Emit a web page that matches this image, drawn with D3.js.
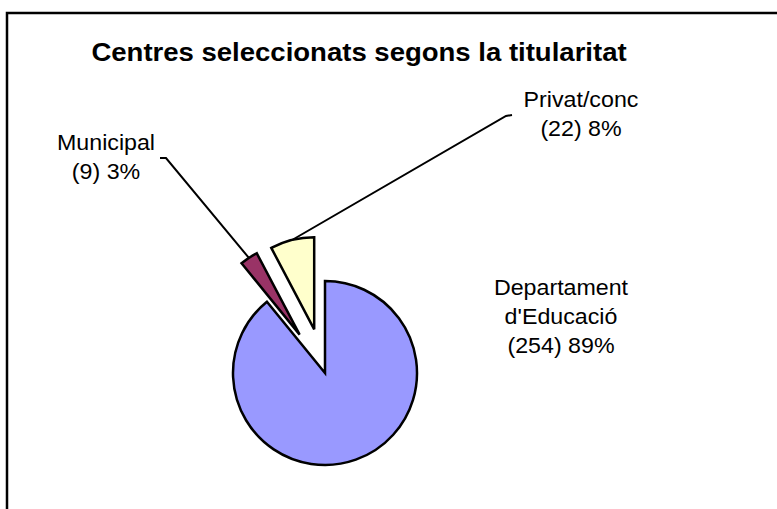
<!DOCTYPE html>
<html>
<head>
<meta charset="utf-8">
<script src="https://d3js.org/d3.v7.min.js"></script>
<style>
body { margin: 0; background: #fff; }
svg { display: block; }
text { font-family: Arial, "Liberation Sans", sans-serif; fill: #000; }
</style>
<title>Centres seleccionats segons la titularitat</title>
</head>
<body>
<script>
var categories = [["Departament", "d'Educació"], ["Municipal"], ["Privat/conc"]];
var values = [254, 9, 22];
var colors = ["#9999ff", "#993366", "#ffffcc"];
var exploded = [0, 46, 45];

// label anchors (centre x, first baseline) and leader start points
var labelPos = [[561, 295], [106, 150], [581, 107]];
var leaderStart = [null, [[160, 158], [166, 158]], [[512, 115], [506, 116]]];

var width = 777, height = 509;
var cx = 325, cy = 373, r = 92;

var total = d3.sum(values);

var svg = d3.select("body").append("svg")
    .attr("width", width)
    .attr("height", height);

// chart frame, runs off the right and bottom edges
svg.append("rect")
    .attr("x", 7).attr("y", 13)
    .attr("width", 900).attr("height", 700)
    .attr("fill", "#fff")
    .attr("stroke", "#000")
    .attr("stroke-width", 2.5);

svg.append("text")
    .attr("transform", "translate(359,61) scale(1.08,1)")
    .attr("text-anchor", "middle")
    .style("font-size", "25.5px")
    .style("font-weight", "bold")
    .text("Centres seleccionats segons la titularitat");

var pie = d3.pie().sort(null).value(function(d) { return d; });
var arcs = pie(values);

var arc = d3.arc().innerRadius(0).outerRadius(r);

function offset(d, i) {
  var a = (d.startAngle + d.endAngle) / 2;
  return [Math.sin(a) * exploded[i], -Math.cos(a) * exploded[i]];
}

var g = svg.append("g").attr("transform", "translate(" + cx + "," + cy + ")");

g.selectAll("path")
    .data(arcs)
  .enter().append("path")
    .attr("d", arc)
    .attr("transform", function(d, i) { return "translate(" + offset(d, i) + ")"; })
    .attr("fill", function(d, i) { return colors[i]; })
    .attr("stroke", "#000")
    .attr("stroke-width", 2.5)
    .attr("stroke-linejoin", "miter");

// leader lines to the outer middle of the exploded slices
arcs.forEach(function(d, i) {
  if (!leaderStart[i]) return;
  var a = (d.startAngle + d.endAngle) / 2;
  var o = offset(d, i);
  var end = [cx + o[0] + Math.sin(a) * r, cy + o[1] - Math.cos(a) * r];
  var pts = leaderStart[i].concat([end]);
  svg.append("path")
      .attr("d", d3.line()(pts))
      .attr("fill", "none")
      .attr("stroke", "#000")
      .attr("stroke-width", 2);
});

arcs.forEach(function(d, i) {
  var pct = Math.round(values[i] / total * 100);
  var lines = categories[i].concat(["(" + values[i] + ") " + pct + "%"]);
  lines.forEach(function(t, j) {
    svg.append("text")
        .attr("transform", "translate(" + labelPos[i][0] + "," + (labelPos[i][1] + j * 29) + ") scale(1.08,1)")
        .attr("text-anchor", "middle")
        .style("font-size", "21.5px")
        .text(t);
  });
});
</script>
</body>
</html>
